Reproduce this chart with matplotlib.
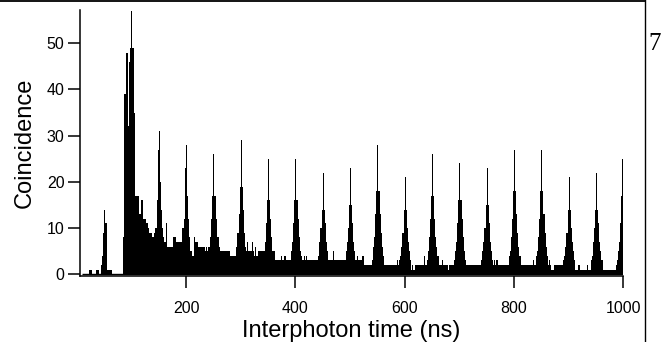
import numpy as np
import matplotlib
matplotlib.use("Agg")
import matplotlib.pyplot as plt
from matplotlib.lines import Line2D

# ---------------- data (2 ns bins, bin centres 11, 13, ..., 999 ns) ----------------
bin_width_ns = 2
first_bin_center_ns = 11

counts_pre = [0, 0, 0, 0, 0, 0, 1, 1]
counts_050 = [1, 0, 0, 0, 0, 1, 1, 0, 0, 2, 4, 9, 14, 11, 11, 1, 1, 1, 1, 0, 0, 0, 0, 0, 0]
counts_100 = [0, 0, 0, 0, 8, 39, 39, 48, 48, 32, 46, 49, 57, 49, 35, 17, 17, 17, 17, 13, 13, 16, 16, 12, 12]
counts_150 = [11, 11, 10, 9, 9, 9, 8, 8, 9, 10, 16, 27, 31, 20, 14, 10, 8, 7, 7, 11, 6, 6, 6, 6, 6]
counts_200 = [8, 8, 8, 7, 7, 7, 7, 7, 10, 10, 12, 23, 28, 17, 12, 8, 5, 4, 4, 8, 7, 7, 7, 6, 6]
counts_250 = [6, 6, 6, 6, 5, 6, 5, 6, 6, 8, 12, 17, 26, 17, 12, 8, 8, 6, 5, 5, 5, 5, 5, 5, 5]
counts_300 = [5, 5, 4, 4, 4, 4, 4, 4, 6, 9, 13, 19, 29, 19, 14, 9, 6, 5, 7, 5, 5, 5, 7, 5, 4]
counts_350 = [6, 4, 4, 5, 5, 5, 5, 5, 5, 7, 11, 16, 25, 16, 12, 8, 5, 5, 3, 3, 3, 3, 3, 3, 4]
counts_400 = [3, 3, 4, 3, 3, 3, 3, 3, 5, 7, 11, 16, 25, 16, 12, 8, 5, 4, 3, 3, 4, 3, 4, 3, 3]
counts_450 = [3, 3, 3, 3, 3, 3, 3, 3, 4, 7, 10, 14, 22, 14, 11, 7, 5, 3, 3, 3, 3, 5, 3, 3, 3]
counts_500 = [3, 3, 3, 3, 3, 3, 3, 3, 5, 7, 10, 15, 23, 15, 11, 7, 5, 3, 4, 3, 3, 3, 3, 4, 4]
counts_550 = [2, 2, 2, 2, 2, 2, 2, 3, 6, 8, 13, 18, 28, 18, 13, 9, 6, 4, 2, 2, 2, 2, 2, 2, 2]
counts_600 = [2, 2, 2, 2, 2, 3, 2, 3, 4, 6, 9, 14, 21, 14, 10, 7, 5, 3, 1, 2, 1, 2, 2, 2, 2]
counts_650 = [2, 2, 2, 2, 2, 4, 2, 3, 5, 8, 12, 17, 26, 17, 12, 8, 6, 4, 2, 2, 2, 3, 2, 2, 2]
counts_700 = [2, 2, 1, 2, 2, 2, 2, 3, 5, 7, 11, 16, 24, 16, 12, 8, 5, 3, 2, 2, 2, 2, 2, 2, 2]
counts_750 = [2, 2, 2, 2, 2, 2, 2, 3, 5, 7, 10, 15, 23, 15, 11, 7, 5, 3, 2, 3, 2, 3, 2, 2, 2]
counts_800 = [2, 2, 2, 2, 2, 2, 2, 4, 5, 8, 12, 18, 27, 18, 13, 9, 6, 4, 2, 2, 2, 2, 2, 2, 2]
counts_850 = [2, 2, 2, 2, 3, 2, 2, 4, 5, 8, 12, 18, 27, 18, 13, 9, 6, 4, 2, 3, 2, 1, 1, 1, 2]
counts_900 = [2, 2, 2, 2, 2, 2, 2, 3, 4, 6, 9, 14, 21, 14, 10, 7, 5, 3, 1, 1, 1, 2, 1, 1, 1]
counts_950 = [1, 1, 1, 1, 2, 1, 1, 3, 4, 7, 10, 14, 22, 14, 11, 7, 5, 3, 1, 1, 1, 1, 1, 1, 1]
counts_1000 = [1, 1, 1, 1, 1, 2, 3, 5, 7, 11, 17, 25]

x_ticks = [200, 400, 600, 800, 1000]
y_ticks = [0, 10, 20, 30, 40, 50]
x_label = "Interphoton time (ns)"
y_label = "Coincidence"
panel_number = "7"

counts = np.array(counts_pre + counts_050 + counts_100 + counts_150 + counts_200 + counts_250
                  + counts_300 + counts_350 + counts_400 + counts_450 + counts_500 + counts_550
                  + counts_600 + counts_650 + counts_700 + counts_750 + counts_800 + counts_850
                  + counts_900 + counts_950 + counts_1000, dtype=float)
centers = first_bin_center_ns + bin_width_ns * np.arange(len(counts))
edges = np.append(centers - bin_width_ns / 2, centers[-1] + bin_width_ns / 2)

# ---------------- figure ----------------
plt.rcParams['font.family'] = ['Liberation Sans', 'DejaVu Sans']
W, H = 661, 342
fig = plt.figure(figsize=(W / 100, H / 100), dpi=100)
ax = fig.add_axes([80 / W, (H - 276) / H, 543.3 / W, 266 / H])

ax.stairs(counts, edges, fill=True, color='black', lw=0)
ax.hlines(0, edges[0], edges[-1], color='black', lw=1.0)

ax.set_xlim(6, 1000)
ax.set_ylim(-0.37, 57.2)
ax.set_xticks(x_ticks)
ax.set_yticks(y_ticks)

for s in ['top', 'right']:
    ax.spines[s].set_visible(False)
for s in ['left', 'bottom']:
    ax.spines[s].set_linewidth(1.1)

ax.tick_params(axis='both', direction='out', length=8.7, width=1.1, labelsize=11.5, colors='black')
ax.tick_params(axis='x', pad=9)
ax.tick_params(axis='y', pad=2.5)

ax.set_xlabel(x_label, fontsize=17, labelpad=3)
ax.set_ylabel(y_label, fontsize=17, labelpad=8)

# page fragments around the cropped figure
fig.add_artist(Line2D([0, 645 / W], [1 - 0.7 / H, 1 - 0.7 / H], transform=fig.transFigure,
                      color='black', lw=1.3))
fig.add_artist(Line2D([645 / W, 645 / W], [0, 1], transform=fig.transFigure,
                      color='black', lw=1.0))
fig.text(648 / W, 1 - 50 / H, panel_number, family=['Liberation Serif', 'DejaVu Serif'],
         fontsize=18, va='baseline', ha='left')

fig.savefig("out.png", dpi=100)
